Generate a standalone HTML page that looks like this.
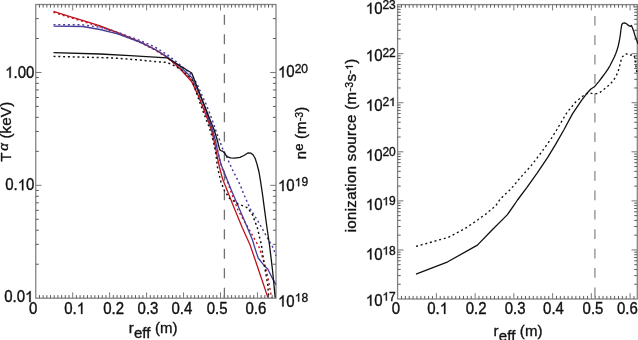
<!DOCTYPE html>
<html><head><meta charset="utf-8"><style>
html,body{margin:0;padding:0;background:#fff;}
svg{display:block;will-change:transform;font-family:"Liberation Sans",sans-serif;}
text{fill:#111;stroke:#111;stroke-width:0.35px;}
.one{fill-opacity:0;stroke-opacity:0;}
.g1{fill:#111;stroke:#111;stroke-width:0.35px;vector-effect:non-scaling-stroke;}
</style></head><body>
<svg width="638" height="340" viewBox="0 0 638 340">
<rect width="638" height="340" fill="#fff"/>
<rect x="35.75" y="4.5" width="240.25" height="293.7" fill="none" stroke="#858585" stroke-width="1.3"/>
<path d="M39.45 298.2v-3.1M39.45 4.5v3.1M43.14 298.2v-3.1M43.14 4.5v3.1M46.84 298.2v-3.1M46.84 4.5v3.1M50.53 298.2v-3.1M50.53 4.5v3.1M54.23 298.2v-3.1M54.23 4.5v3.1M57.92 298.2v-3.1M57.92 4.5v3.1M61.62 298.2v-3.1M61.62 4.5v3.1M65.31 298.2v-3.1M65.31 4.5v3.1M69 298.2v-3.1M69 4.5v3.1M76.4 298.2v-3.1M76.4 4.5v3.1M80.09 298.2v-3.1M80.09 4.5v3.1M83.78 298.2v-3.1M83.78 4.5v3.1M87.48 298.2v-3.1M87.48 4.5v3.1M91.17 298.2v-3.1M91.17 4.5v3.1M94.87 298.2v-3.1M94.87 4.5v3.1M98.56 298.2v-3.1M98.56 4.5v3.1M102.26 298.2v-3.1M102.26 4.5v3.1M105.95 298.2v-3.1M105.95 4.5v3.1M113.34 298.2v-3.1M113.34 4.5v3.1M117.04 298.2v-3.1M117.04 4.5v3.1M120.73 298.2v-3.1M120.73 4.5v3.1M124.43 298.2v-3.1M124.43 4.5v3.1M128.12 298.2v-3.1M128.12 4.5v3.1M131.82 298.2v-3.1M131.82 4.5v3.1M135.51 298.2v-3.1M135.51 4.5v3.1M139.21 298.2v-3.1M139.21 4.5v3.1M142.9 298.2v-3.1M142.9 4.5v3.1M150.3 298.2v-3.1M150.3 4.5v3.1M153.99 298.2v-3.1M153.99 4.5v3.1M157.69 298.2v-3.1M157.69 4.5v3.1M161.38 298.2v-3.1M161.38 4.5v3.1M165.08 298.2v-3.1M165.08 4.5v3.1M168.77 298.2v-3.1M168.77 4.5v3.1M172.47 298.2v-3.1M172.47 4.5v3.1M176.16 298.2v-3.1M176.16 4.5v3.1M179.86 298.2v-3.1M179.86 4.5v3.1M187.25 298.2v-3.1M187.25 4.5v3.1M190.94 298.2v-3.1M190.94 4.5v3.1M194.63 298.2v-3.1M194.63 4.5v3.1M198.33 298.2v-3.1M198.33 4.5v3.1M202.03 298.2v-3.1M202.03 4.5v3.1M205.72 298.2v-3.1M205.72 4.5v3.1M209.42 298.2v-3.1M209.42 4.5v3.1M213.11 298.2v-3.1M213.11 4.5v3.1M216.81 298.2v-3.1M216.81 4.5v3.1M224.19 298.2v-3.1M224.19 4.5v3.1M227.89 298.2v-3.1M227.89 4.5v3.1M231.59 298.2v-3.1M231.59 4.5v3.1M235.28 298.2v-3.1M235.28 4.5v3.1M238.98 298.2v-3.1M238.98 4.5v3.1M242.67 298.2v-3.1M242.67 4.5v3.1M246.37 298.2v-3.1M246.37 4.5v3.1M250.06 298.2v-3.1M250.06 4.5v3.1M253.75 298.2v-3.1M253.75 4.5v3.1M261.14 298.2v-3.1M261.14 4.5v3.1M264.84 298.2v-3.1M264.84 4.5v3.1M268.53 298.2v-3.1M268.53 4.5v3.1M272.23 298.2v-3.1M272.23 4.5v3.1M35.75 264.22h3.1M276 264.22h-3.1M35.75 244.35h3.1M276 244.35h-3.1M35.75 230.24h3.1M276 230.24h-3.1M35.75 219.31h3.1M276 219.31h-3.1M35.75 210.37h3.1M276 210.37h-3.1M35.75 202.81h3.1M276 202.81h-3.1M35.75 196.27h3.1M276 196.27h-3.1M35.75 190.49h3.1M276 190.49h-3.1M35.75 151.35h3.1M276 151.35h-3.1M35.75 131.47h3.1M276 131.47h-3.1M35.75 117.37h3.1M276 117.37h-3.1M35.75 106.43h3.1M276 106.43h-3.1M35.75 97.5h3.1M276 97.5h-3.1M35.75 89.94h3.1M276 89.94h-3.1M35.75 83.39h3.1M276 83.39h-3.1M35.75 77.62h3.1M276 77.62h-3.1M35.75 38.48h3.1M276 38.48h-3.1M35.75 18.6h3.1M276 18.6h-3.1" fill="none" stroke="#5e5e5e" stroke-width="1.0"/>
<path d="M72.7 298.2v-5.8M72.7 4.5v5.8M109.65 298.2v-5.8M109.65 4.5v5.8M146.6 298.2v-5.8M146.6 4.5v5.8M183.55 298.2v-5.8M183.55 4.5v5.8M220.5 298.2v-5.8M220.5 4.5v5.8M257.45 298.2v-5.8M257.45 4.5v5.8M35.75 185.33h5.8M276 185.33h-5.8M35.75 72.46h5.8M276 72.46h-5.8" fill="none" stroke="#777" stroke-width="1.0"/>
<line x1="224.4" y1="14.7" x2="224.4" y2="298.2" stroke="#707070" stroke-width="1.3" stroke-dasharray="10 9.5"/>
<path d="M53.5 11.4 70 16.6 85 21.1 100 25.9 117.7 32.6 140.6 42.1 155 49.5 167.1 57.1 180 68.6 191.7 81.7 198 95 204 110 209 123 212.3 133 215 145 217.5 158 219.7 168 222.6 179 227.9 192.3 235 210 242.2 227.5 250.1 245 255.9 262 262 280 267.9 297.6" fill="none" stroke="#c0121e" stroke-width="1.3" stroke-linejoin="round"/>
<path d="M53.5 12.3 70 17.5 85 22 100 26.7 117.7 33.4 140.6 42.6 155 50 167.1 57.4 180 68.6 191.7 80.5 198 94 204 108 209 121 213 132 216.5 145 219.1 157 221.8 167.6 226.2 178.2 231.8 194 238 210 245 222.3 250.5 232 255.6 240.9 259 247 263.8 261.2 267.9 277.4 271.1 295.2 271.5 298" fill="none" stroke="#c0121e" stroke-width="1.45" stroke-linejoin="round" stroke-dasharray="2 2.8"/>
<path d="M53.5 26.1 82.7 26.5 100 29.5 117.7 33.8 140.6 42.3 155 49.3 167 56.8 180 66.5 191.7 77.5 199 93 205 108 209 120 212.6 130 215.3 140 217.3 150 219.3 158 220.9 164.1 224.4 173 231.5 190.6 237.6 204.7 245 222 252.5 240 255.5 250 258.2 258 263.8 265.2 267.9 269.3 271.9 277.4 276 284.6" fill="none" stroke="#463e9a" stroke-width="1.3" stroke-linejoin="round"/>
<path d="M53.5 24.6 82 24.8 100 27.2 113.6 30.8 140.6 40.8 155 47 167 54.5 175 60.6 191.7 74.7 198 86 202.3 96 206 104 210 114 214 125 216.8 133.5 219.5 140 222.1 147.6 226.2 155.9 232 168.8 240.3 185.3 244.1 195 250.3 209.1 258.2 221.5 266.1 235.6 273.2 247.9 276 256" fill="none" stroke="#463e9a" stroke-width="1.45" stroke-linejoin="round" stroke-dasharray="2 2.8"/>
<path d="M53.5 52.7 100 54 130 55.6 167 57.8 191.7 73 200.3 95 206.3 110 210.5 121 214.4 130.5 217.2 140 219.6 149.3 220.5 150.5 222.4 151.1 223.9 152.2 225.5 154.7 227.5 156.8 230.6 157.8 234.7 158.1 239.9 157.3 244 155.5 248.2 152.8 251 153.2 253.2 155 255.2 158.5 257 164.1 259 172 260.6 181.7 262.6 195 264.1 206.4 266.6 225 269.5 245 272.5 270 275.2 297.6" fill="none" stroke="#111" stroke-width="1.3" stroke-linejoin="round"/>
<path d="M53.5 56.4 100 57.6 113.6 58 140 60 160 62 167 62.4 175 66 182 70.5 191.7 79 198 97.4 204 114 208 124 210.9 132.4 213.5 142 215.6 152 216.6 160 217.4 167 220.9 181.7 224.4 190.6 229.7 198.5 237.9 203.8 246.7 207.3 252 213.5 257.3 227.6 261.4 245 264.6 266.8 267.9 285.5 268.7 297.5" fill="none" stroke="#111" stroke-width="1.45" stroke-linejoin="round" stroke-dasharray="2 2.8"/>
<text transform="translate(34.4 77.8) scale(1 1.08)" font-size="15" text-anchor="end"><tspan class="one">1</tspan>.00</text>
<text transform="translate(34.4 190.3) scale(1 1.08)" font-size="15" text-anchor="end">0.<tspan class="one">1</tspan>0</text>
<text transform="translate(33.4 302.1) scale(1 1.08)" font-size="15" text-anchor="end">0.0<tspan class="one">1</tspan></text>
<text transform="translate(278 77.4) scale(1 1.08)" font-size="15" text-anchor="start"><tspan class="one">1</tspan>0</text>
<text x="294.7" y="72.5" font-size="12">20</text>
<text transform="translate(278 191.1) scale(1 1.08)" font-size="15" text-anchor="start"><tspan class="one">1</tspan>0</text>
<text x="294.7" y="186.2" font-size="12"><tspan class="one">1</tspan>9</text>
<text transform="translate(278 306.5) scale(1 1.08)" font-size="15" text-anchor="start"><tspan class="one">1</tspan>0</text>
<text x="294.7" y="301.6" font-size="12"><tspan class="one">1</tspan>8</text>
<text transform="translate(33.25 313.9) scale(1 1.1)" font-size="15" text-anchor="middle">0</text>
<text transform="translate(74.7 313.9) scale(1 1.1)" font-size="15" text-anchor="middle">0.<tspan class="one">1</tspan></text>
<text transform="translate(113.6 313.9) scale(1 1.1)" font-size="15" text-anchor="middle">0.2</text>
<text transform="translate(148 313.9) scale(1 1.1)" font-size="15" text-anchor="middle">0.3</text>
<text transform="translate(181.9 313.9) scale(1 1.1)" font-size="15" text-anchor="middle">0.4</text>
<text transform="translate(217.2 313.9) scale(1 1.1)" font-size="15" text-anchor="middle">0.5</text>
<text transform="translate(255.9 313.9) scale(1 1.1)" font-size="15" text-anchor="middle">0.6</text>
<text transform="translate(11.4 161.8) rotate(-90)" font-size="15.2" textLength="60" lengthAdjust="spacing">T<tspan font-size="13.5" dx="1.6" dy="-3.3" font-style="italic">&#945;</tspan><tspan dy="3.3"> (keV)</tspan></text>
<text transform="translate(306.4 159.2) rotate(-90)" font-size="15" textLength="52.5" lengthAdjust="spacing">n<tspan font-size="13" dy="-3.4">e</tspan><tspan dy="3.4"> (m</tspan><tspan font-size="10.5" dy="-3.2">-3</tspan><tspan dy="3.2">)</tspan></text>
<text x="128.8" y="333.1" font-size="15" textLength="48.8" lengthAdjust="spacing">r<tspan dy="4.6">eff</tspan><tspan dy="-4.6"> (m)</tspan></text>
<rect x="397.6" y="4.6" width="239.7" height="294.4" fill="none" stroke="#858585" stroke-width="1.3"/>
<path d="M401.48 299v-3.1M401.48 4.6v3.1M405.35 299v-3.1M405.35 4.6v3.1M409.23 299v-3.1M409.23 4.6v3.1M413.1 299v-3.1M413.1 4.6v3.1M416.98 299v-3.1M416.98 4.6v3.1M420.85 299v-3.1M420.85 4.6v3.1M424.73 299v-3.1M424.73 4.6v3.1M428.6 299v-3.1M428.6 4.6v3.1M432.48 299v-3.1M432.48 4.6v3.1M440.23 299v-3.1M440.23 4.6v3.1M444.1 299v-3.1M444.1 4.6v3.1M447.98 299v-3.1M447.98 4.6v3.1M451.85 299v-3.1M451.85 4.6v3.1M455.73 299v-3.1M455.73 4.6v3.1M459.6 299v-3.1M459.6 4.6v3.1M463.48 299v-3.1M463.48 4.6v3.1M467.35 299v-3.1M467.35 4.6v3.1M471.23 299v-3.1M471.23 4.6v3.1M478.98 299v-3.1M478.98 4.6v3.1M482.85 299v-3.1M482.85 4.6v3.1M486.73 299v-3.1M486.73 4.6v3.1M490.6 299v-3.1M490.6 4.6v3.1M494.48 299v-3.1M494.48 4.6v3.1M498.35 299v-3.1M498.35 4.6v3.1M502.23 299v-3.1M502.23 4.6v3.1M506.1 299v-3.1M506.1 4.6v3.1M509.98 299v-3.1M509.98 4.6v3.1M517.73 299v-3.1M517.73 4.6v3.1M521.6 299v-3.1M521.6 4.6v3.1M525.48 299v-3.1M525.48 4.6v3.1M529.35 299v-3.1M529.35 4.6v3.1M533.23 299v-3.1M533.23 4.6v3.1M537.1 299v-3.1M537.1 4.6v3.1M540.98 299v-3.1M540.98 4.6v3.1M544.85 299v-3.1M544.85 4.6v3.1M548.73 299v-3.1M548.73 4.6v3.1M556.48 299v-3.1M556.48 4.6v3.1M560.35 299v-3.1M560.35 4.6v3.1M564.23 299v-3.1M564.23 4.6v3.1M568.1 299v-3.1M568.1 4.6v3.1M571.98 299v-3.1M571.98 4.6v3.1M575.85 299v-3.1M575.85 4.6v3.1M579.73 299v-3.1M579.73 4.6v3.1M583.6 299v-3.1M583.6 4.6v3.1M587.48 299v-3.1M587.48 4.6v3.1M595.23 299v-3.1M595.23 4.6v3.1M599.1 299v-3.1M599.1 4.6v3.1M602.98 299v-3.1M602.98 4.6v3.1M606.85 299v-3.1M606.85 4.6v3.1M610.73 299v-3.1M610.73 4.6v3.1M614.6 299v-3.1M614.6 4.6v3.1M618.48 299v-3.1M618.48 4.6v3.1M622.35 299v-3.1M622.35 4.6v3.1M626.23 299v-3.1M626.23 4.6v3.1M633.98 299v-3.1M633.98 4.6v3.1M397.6 284.23h3.1M637.3 284.23h-3.1M397.6 275.59h3.1M637.3 275.59h-3.1M397.6 269.46h3.1M637.3 269.46h-3.1M397.6 264.7h3.1M637.3 264.7h-3.1M397.6 260.82h3.1M637.3 260.82h-3.1M397.6 257.53h3.1M637.3 257.53h-3.1M397.6 254.69h3.1M637.3 254.69h-3.1M397.6 252.18h3.1M637.3 252.18h-3.1M397.6 235.16h3.1M637.3 235.16h-3.1M397.6 226.52h3.1M637.3 226.52h-3.1M397.6 220.39h3.1M637.3 220.39h-3.1M397.6 215.64h3.1M637.3 215.64h-3.1M397.6 211.75h3.1M637.3 211.75h-3.1M397.6 208.47h3.1M637.3 208.47h-3.1M397.6 205.62h3.1M637.3 205.62h-3.1M397.6 203.11h3.1M637.3 203.11h-3.1M397.6 186.1h3.1M637.3 186.1h-3.1M397.6 177.46h3.1M637.3 177.46h-3.1M397.6 171.33h3.1M637.3 171.33h-3.1M397.6 166.57h3.1M637.3 166.57h-3.1M397.6 162.69h3.1M637.3 162.69h-3.1M397.6 159.4h3.1M637.3 159.4h-3.1M397.6 156.56h3.1M637.3 156.56h-3.1M397.6 154.05h3.1M637.3 154.05h-3.1M397.6 137.03h3.1M637.3 137.03h-3.1M397.6 128.39h3.1M637.3 128.39h-3.1M397.6 122.26h3.1M637.3 122.26h-3.1M397.6 117.5h3.1M637.3 117.5h-3.1M397.6 113.62h3.1M637.3 113.62h-3.1M397.6 110.33h3.1M637.3 110.33h-3.1M397.6 107.49h3.1M637.3 107.49h-3.1M397.6 104.98h3.1M637.3 104.98h-3.1M397.6 87.96h3.1M637.3 87.96h-3.1M397.6 79.32h3.1M637.3 79.32h-3.1M397.6 73.19h3.1M637.3 73.19h-3.1M397.6 68.44h3.1M637.3 68.44h-3.1M397.6 64.55h3.1M637.3 64.55h-3.1M397.6 61.27h3.1M637.3 61.27h-3.1M397.6 58.42h3.1M637.3 58.42h-3.1M397.6 55.91h3.1M637.3 55.91h-3.1M397.6 38.9h3.1M637.3 38.9h-3.1M397.6 30.26h3.1M637.3 30.26h-3.1M397.6 24.13h3.1M637.3 24.13h-3.1M397.6 19.37h3.1M637.3 19.37h-3.1M397.6 15.49h3.1M637.3 15.49h-3.1M397.6 12.2h3.1M637.3 12.2h-3.1M397.6 9.36h3.1M637.3 9.36h-3.1M397.6 6.85h3.1M637.3 6.85h-3.1" fill="none" stroke="#5e5e5e" stroke-width="1.0"/>
<path d="M436.35 299v-5.8M436.35 4.6v5.8M475.1 299v-5.8M475.1 4.6v5.8M513.85 299v-5.8M513.85 4.6v5.8M552.6 299v-5.8M552.6 4.6v5.8M591.35 299v-5.8M591.35 4.6v5.8M630.1 299v-5.8M630.1 4.6v5.8M397.6 249.93h5.8M637.3 249.93h-5.8M397.6 200.87h5.8M637.3 200.87h-5.8M397.6 151.8h5.8M637.3 151.8h-5.8M397.6 102.73h5.8M637.3 102.73h-5.8M397.6 53.67h5.8M637.3 53.67h-5.8" fill="none" stroke="#777" stroke-width="1.0"/>
<line x1="594.9" y1="15.9" x2="594.9" y2="299" stroke="#8c8c8c" stroke-width="1.3" stroke-dasharray="9.7 9.7"/>
<path d="M416 274.1 447.8 261.8 477.4 245.1 491.8 230.3 507.2 214.9 514.4 204.6 517.5 200 526.8 187.6 537.1 173.2 547.4 157.8 555.6 144.4 563.8 130 572.3 114.1 581.2 100.9 586.5 93.8 590.9 89 594.4 86.8 596 84.9 599 81.3 601.9 77.5 605 73.4 607.8 69.4 610.1 65.5 612.2 61.3 614.2 57.2 615.9 53.2 617.1 49.8 618.1 46.6 619.5 40 620.3 35 620.9 30 621.3 27.5 621.7 24.9 622.6 23.4 624.4 22.8 625.7 23.3 627.4 24.6 629.2 25.9 630.5 26.3 631.4 25.4 632.3 27.4 633.6 30.9 634.9 35.2 636.3 39.2 637.2 41.5 638 44.1" fill="none" stroke="#111" stroke-width="1.3" stroke-linejoin="round"/>
<path d="M416 246.3 430 242.5 448.2 237.4 465 228.6 475.3 221.6 485.6 214.2 495.9 205.6 500 199.3 505 194.4 510.3 189.7 520.6 177.4 530.9 166 541.2 152.6 551.5 138.2 556.6 130 561.5 121.6 567.1 112.3 575.9 101.7 584.7 94.7 589.1 92.9 592.6 93.6 597 93.6 600 92.4 605.9 87.8 610.3 84 614 79.6 616.9 74.4 619.1 68.5 620.6 61.8 622.1 57.2 624.3 54.8 626.5 53.8 628.7 55.3 630.9 55 633.1 54.6 634.6 56.8 635.3 61.2 636 67.1 636.8 72" fill="none" stroke="#111" stroke-width="1.35" stroke-linejoin="round" stroke-dasharray="2 2.8"/>
<text transform="translate(365.8 13.8) scale(1 1.08)" font-size="15" text-anchor="start"><tspan class="one">1</tspan>0</text>
<text x="382.4" y="8.8" font-size="12">23</text>
<text transform="translate(365.8 61.2) scale(1 1.08)" font-size="15" text-anchor="start"><tspan class="one">1</tspan>0</text>
<text x="382.4" y="56.7" font-size="12">22</text>
<text transform="translate(365.8 110.7) scale(1 1.08)" font-size="15" text-anchor="start"><tspan class="one">1</tspan>0</text>
<text x="382.4" y="106" font-size="12">2<tspan class="one">1</tspan></text>
<text transform="translate(365.8 160.5) scale(1 1.08)" font-size="15" text-anchor="start"><tspan class="one">1</tspan>0</text>
<text x="382.4" y="155.8" font-size="12">20</text>
<text transform="translate(365.8 210.1) scale(1 1.08)" font-size="15" text-anchor="start"><tspan class="one">1</tspan>0</text>
<text x="382.4" y="205.3" font-size="12"><tspan class="one">1</tspan>9</text>
<text transform="translate(365.8 259.5) scale(1 1.08)" font-size="15" text-anchor="start"><tspan class="one">1</tspan>0</text>
<text x="382.4" y="254.8" font-size="12"><tspan class="one">1</tspan>8</text>
<text transform="translate(365.8 305.8) scale(1 1.08)" font-size="15" text-anchor="start"><tspan class="one">1</tspan>0</text>
<text x="382.4" y="300.6" font-size="12"><tspan class="one">1</tspan>7</text>
<text transform="translate(396 313.9) scale(1 1.1)" font-size="15" text-anchor="middle">0</text>
<text transform="translate(437.7 313.9) scale(1 1.1)" font-size="15" text-anchor="middle">0.<tspan class="one">1</tspan></text>
<text transform="translate(476.2 313.9) scale(1 1.1)" font-size="15" text-anchor="middle">0.2</text>
<text transform="translate(515.1 313.9) scale(1 1.1)" font-size="15" text-anchor="middle">0.3</text>
<text transform="translate(553.5 313.9) scale(1 1.1)" font-size="15" text-anchor="middle">0.4</text>
<text transform="translate(593 313.9) scale(1 1.1)" font-size="15" text-anchor="middle">0.5</text>
<text transform="translate(627.3 313.9) scale(1 1.1)" font-size="15" text-anchor="middle">0.6</text>
<text transform="translate(356.2 232.3) rotate(-90)" font-size="15" textLength="173.5" lengthAdjust="spacing">ionization source (m<tspan font-size="10.5" dy="-3.4">-3</tspan><tspan dy="3.4">s</tspan><tspan font-size="10.5" dy="-3.4">-<tspan class="one">1</tspan></tspan><tspan dy="3.4">)</tspan></text>
<text x="493.6" y="335.9" font-size="15" textLength="49" lengthAdjust="spacing">r<tspan dy="4.6">eff</tspan><tspan dy="-4.6"> (m)</tspan></text>
<path class="g1" d="M763 0H583V1098Q518 1038 412 979Q307 920 223 890V1057Q374 1125 487 1221Q600 1318 647 1409H763Z" transform="translate(34.4 77.8) scale(1 1.08) translate(-29.20 0.00) scale(0.007324 -0.007324)"/>
<path class="g1" d="M763 0H583V1098Q518 1038 412 979Q307 920 223 890V1057Q374 1125 487 1221Q600 1318 647 1409H763Z" transform="translate(34.4 190.3) scale(1 1.08) translate(-16.69 0.00) scale(0.007324 -0.007324)"/>
<path class="g1" d="M763 0H583V1098Q518 1038 412 979Q307 920 223 890V1057Q374 1125 487 1221Q600 1318 647 1409H763Z" transform="translate(33.4 302.1) scale(1 1.08) translate(-8.35 0.00) scale(0.007324 -0.007324)"/>
<path class="g1" d="M763 0H583V1098Q518 1038 412 979Q307 920 223 890V1057Q374 1125 487 1221Q600 1318 647 1409H763Z" transform="translate(278 77.4) scale(1 1.08) translate(0.00 0.00) scale(0.007324 -0.007324)"/>
<path class="g1" d="M763 0H583V1098Q518 1038 412 979Q307 920 223 890V1057Q374 1125 487 1221Q600 1318 647 1409H763Z" transform="translate(278 191.1) scale(1 1.08) translate(0.00 0.00) scale(0.007324 -0.007324)"/>
<path class="g1" d="M763 0H583V1098Q518 1038 412 979Q307 920 223 890V1057Q374 1125 487 1221Q600 1318 647 1409H763Z" transform="translate(294.70 186.20) scale(0.005859 -0.005859)"/>
<path class="g1" d="M763 0H583V1098Q518 1038 412 979Q307 920 223 890V1057Q374 1125 487 1221Q600 1318 647 1409H763Z" transform="translate(278 306.5) scale(1 1.08) translate(0.00 0.00) scale(0.007324 -0.007324)"/>
<path class="g1" d="M763 0H583V1098Q518 1038 412 979Q307 920 223 890V1057Q374 1125 487 1221Q600 1318 647 1409H763Z" transform="translate(294.70 301.60) scale(0.005859 -0.005859)"/>
<path class="g1" d="M763 0H583V1098Q518 1038 412 979Q307 920 223 890V1057Q374 1125 487 1221Q600 1318 647 1409H763Z" transform="translate(74.7 313.9) scale(1 1.1) translate(2.08 0.00) scale(0.007324 -0.007324)"/>
<path class="g1" d="M763 0H583V1098Q518 1038 412 979Q307 920 223 890V1057Q374 1125 487 1221Q600 1318 647 1409H763Z" transform="translate(365.8 13.8) scale(1 1.08) translate(0.00 0.00) scale(0.007324 -0.007324)"/>
<path class="g1" d="M763 0H583V1098Q518 1038 412 979Q307 920 223 890V1057Q374 1125 487 1221Q600 1318 647 1409H763Z" transform="translate(365.8 61.2) scale(1 1.08) translate(0.00 0.00) scale(0.007324 -0.007324)"/>
<path class="g1" d="M763 0H583V1098Q518 1038 412 979Q307 920 223 890V1057Q374 1125 487 1221Q600 1318 647 1409H763Z" transform="translate(365.8 110.7) scale(1 1.08) translate(0.00 0.00) scale(0.007324 -0.007324)"/>
<path class="g1" d="M763 0H583V1098Q518 1038 412 979Q307 920 223 890V1057Q374 1125 487 1221Q600 1318 647 1409H763Z" transform="translate(389.09 106.00) scale(0.005859 -0.005859)"/>
<path class="g1" d="M763 0H583V1098Q518 1038 412 979Q307 920 223 890V1057Q374 1125 487 1221Q600 1318 647 1409H763Z" transform="translate(365.8 160.5) scale(1 1.08) translate(0.00 0.00) scale(0.007324 -0.007324)"/>
<path class="g1" d="M763 0H583V1098Q518 1038 412 979Q307 920 223 890V1057Q374 1125 487 1221Q600 1318 647 1409H763Z" transform="translate(365.8 210.1) scale(1 1.08) translate(0.00 0.00) scale(0.007324 -0.007324)"/>
<path class="g1" d="M763 0H583V1098Q518 1038 412 979Q307 920 223 890V1057Q374 1125 487 1221Q600 1318 647 1409H763Z" transform="translate(382.40 205.30) scale(0.005859 -0.005859)"/>
<path class="g1" d="M763 0H583V1098Q518 1038 412 979Q307 920 223 890V1057Q374 1125 487 1221Q600 1318 647 1409H763Z" transform="translate(365.8 259.5) scale(1 1.08) translate(0.00 0.00) scale(0.007324 -0.007324)"/>
<path class="g1" d="M763 0H583V1098Q518 1038 412 979Q307 920 223 890V1057Q374 1125 487 1221Q600 1318 647 1409H763Z" transform="translate(382.40 254.80) scale(0.005859 -0.005859)"/>
<path class="g1" d="M763 0H583V1098Q518 1038 412 979Q307 920 223 890V1057Q374 1125 487 1221Q600 1318 647 1409H763Z" transform="translate(365.8 305.8) scale(1 1.08) translate(0.00 0.00) scale(0.007324 -0.007324)"/>
<path class="g1" d="M763 0H583V1098Q518 1038 412 979Q307 920 223 890V1057Q374 1125 487 1221Q600 1318 647 1409H763Z" transform="translate(382.40 300.60) scale(0.005859 -0.005859)"/>
<path class="g1" d="M763 0H583V1098Q518 1038 412 979Q307 920 223 890V1057Q374 1125 487 1221Q600 1318 647 1409H763Z" transform="translate(437.7 313.9) scale(1 1.1) translate(2.08 0.00) scale(0.007324 -0.007324)"/>
<path class="g1" d="M763 0H583V1098Q518 1038 412 979Q307 920 223 890V1057Q374 1125 487 1221Q600 1318 647 1409H763Z" transform="translate(356.2 232.3) rotate(-90) translate(162.34 -3.40) scale(0.005127 -0.005127)"/>
</svg>
</body></html>
